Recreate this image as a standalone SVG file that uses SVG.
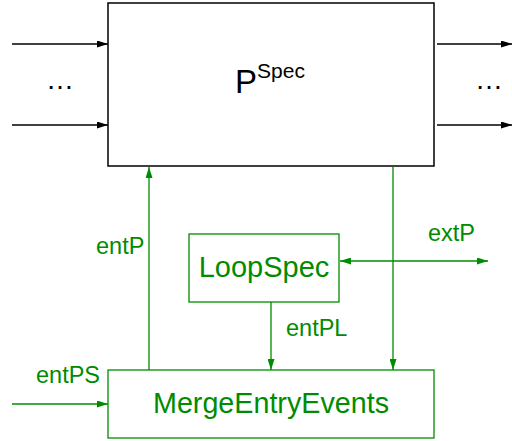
<svg xmlns="http://www.w3.org/2000/svg" width="512" height="441" viewBox="0 0 512 441">
<defs>
<marker id="ab" markerWidth="11" markerHeight="7" refX="11" refY="3.5" orient="auto-start-reverse" markerUnits="userSpaceOnUse"><path d="M0,0 L11,3.5 L0,7 Z" fill="#000"/></marker>
<marker id="ag" markerWidth="11" markerHeight="7" refX="11" refY="3.5" orient="auto-start-reverse" markerUnits="userSpaceOnUse"><path d="M0,0 L11,3.5 L0,7 Z" fill="#008c00"/></marker>
</defs>
<style>
.t{font-family:"Liberation Sans",Arial,sans-serif}
.g{fill:#008c00}
.bk{stroke:#000;stroke-width:1.3;fill:none}
.gl{stroke:#008c00;stroke-width:1.3;fill:none}
</style>
<rect width="512" height="441" fill="#fff"/>
<g id="connectors">
<line class="bk" x1="12" y1="44" x2="108" y2="44" marker-end="url(#ab)"/>
<line class="bk" x1="12" y1="125" x2="108" y2="125" marker-end="url(#ab)"/>
<line class="bk" x1="437" y1="44" x2="512" y2="44" marker-end="url(#ab)"/>
<line class="bk" x1="437" y1="125" x2="512" y2="125" marker-end="url(#ab)"/>
<line class="gl" x1="149" y1="370" x2="149" y2="167" marker-end="url(#ag)"/>
<line class="gl" x1="271" y1="302" x2="271" y2="370" marker-end="url(#ag)"/>
<line class="gl" x1="393" y1="167" x2="393" y2="370" marker-end="url(#ag)"/>
<line class="gl" x1="340" y1="261" x2="488" y2="261" marker-start="url(#ag)" marker-end="url(#ag)"/>
<line class="gl" x1="12" y1="404" x2="108" y2="404" marker-end="url(#ag)"/>
<text class="t g" x="96" y="254" font-size="23.5">entP</text>
<text class="t g" x="36" y="383" font-size="23.5">entPS</text>
<text class="t g" x="286" y="336" font-size="23.5">entPL</text>
<text class="t g" x="428" y="241" font-size="23.5">extP</text>
<text class="t" x="46" y="89" font-size="28">…</text>
<text class="t" x="475" y="89" font-size="28">…</text>
</g>
<g id="P">
<rect x="108" y="3" width="326" height="163" fill="#fff" stroke="#000" stroke-width="1.5"/>
<text class="t" x="235" y="93" font-size="33">P<tspan font-size="21" dy="-15">Spec</tspan></text>
</g>
<g id="LoopSpec">
<rect x="189" y="234" width="150" height="68" fill="#fff" stroke="#008c00" stroke-width="1.3"/>
<text class="t g" x="264" y="277" font-size="29" text-anchor="middle">LoopSpec</text>
</g>
<g id="MergeEntryEvents">
<rect x="108" y="370" width="326" height="68" fill="#fff" stroke="#008c00" stroke-width="1.3"/>
<text class="t g" x="271" y="413" font-size="28.7" text-anchor="middle">MergeEntryEvents</text>
</g>
</svg>
